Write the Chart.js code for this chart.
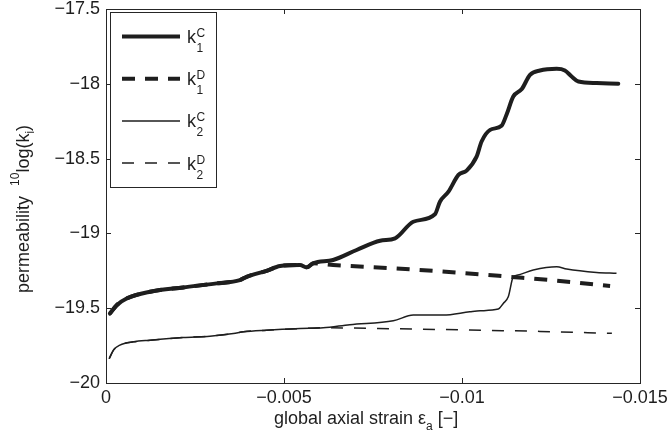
<!DOCTYPE html>
<html>
<head>
<meta charset="utf-8">
<script src="https://cdn.jsdelivr.net/npm/chart.js@4.4.0/dist/chart.umd.min.js"></script>
<style>
  body { margin: 0; background: #fff; }
</style>
</head>
<body>
<canvas id="chart" width="667" height="445"></canvas>
<script>
// values: global axial strain (x) vs 10log of permeability (y)
var k1cStrain = [-0.00011, -0.0003, -0.00058, -0.00124, -0.00217, -0.00311, -0.00376, -0.00395, -0.00451, -0.00489,
    -0.00545, -0.00564, -0.00582, -0.00638, -0.00704, -0.0077, -0.00812, -0.00863, -0.00924, -0.00938,
    -0.00962, -0.0099, -0.01013, -0.01041, -0.01055, -0.01079, -0.01111, -0.01125, -0.01144, -0.01168,
    -0.01191, -0.01219, -0.01266, -0.01289, -0.01308, -0.01327, -0.01378, -0.01439];
var k1cLogK = [-19.536, -19.48, -19.435, -19.39, -19.361, -19.334, -19.312, -19.29, -19.25, -19.218,
    -19.211, -19.227, -19.2, -19.178, -19.111, -19.049, -19.033, -18.922, -18.872, -18.788,
    -18.721, -18.609, -18.58, -18.487, -18.386, -18.308, -18.281, -18.207, -18.085, -18.035,
    -17.94, -17.911, -17.9, -17.911, -17.951, -17.985, -17.995, -18.0];

var k1dStrain = [-0.00011, -0.0003, -0.00058, -0.00124, -0.00217, -0.00311, -0.00376, -0.00395, -0.00451, -0.00489,
    -0.00545, -0.00564, -0.00582, -0.00638, -0.00798, -0.00994, -0.01135, -0.01275, -0.01416];
var k1dLogK = [-19.536, -19.48, -19.435, -19.39, -19.361, -19.334, -19.312, -19.29, -19.25, -19.218,
    -19.211, -19.227, -19.2, -19.211, -19.232, -19.263, -19.29, -19.318, -19.352];

var k2cStrain = [-0.00009, -0.00021, -0.00039, -0.00077, -0.00124, -0.00217, -0.00292, -0.00358, -0.00386, -0.00451,
    -0.00545, -0.0061, -0.00685, -0.00807, -0.00863, -0.00947, -0.01022, -0.01051, -0.01102, -0.01116,
    -0.0113, -0.01144, -0.01154, -0.012, -0.01266, -0.01294, -0.01378, -0.01434];
var k2cLogK = [-19.838, -19.78, -19.747, -19.725, -19.714, -19.696, -19.687, -19.669, -19.658, -19.647,
    -19.636, -19.631, -19.61, -19.584, -19.546, -19.546, -19.524, -19.517, -19.506, -19.468,
    -19.424, -19.29, -19.28, -19.245, -19.223, -19.238, -19.261, -19.267];

var k2dStrain = [-0.00009, -0.00021, -0.00039, -0.00077, -0.00124, -0.00217, -0.00292, -0.00358, -0.00386, -0.00451,
    -0.00545, -0.0061, -0.00826, -0.01022, -0.01219, -0.01421];
var k2dLogK = [-19.838, -19.78, -19.747, -19.725, -19.714, -19.696, -19.687, -19.669, -19.658, -19.647,
    -19.636, -19.631, -19.638, -19.646, -19.655, -19.668];

var xTicks = [0, -0.005, -0.01, -0.015];
var xTickLabels = ['0', '\u22120.005', '\u22120.01', '\u22120.015'];
var yTicks = [-20, -19.5, -19, -18.5, -18, -17.5];
var yTickLabels = ['\u221220', '\u221219.5', '\u221219', '\u221218.5', '\u221218', '\u221217.5'];

var legendSup = ['C', 'D', 'C', 'D'];
var legendSub = ['1', '1', '2', '2'];

var FONT = '"Liberation Sans", Arial, Helvetica, sans-serif';
var INK = '#1e1e1e';

function toPoints(xs, ys) {
    return xs.map(function (v, i) { return { x: v, y: ys[i] }; });
}

// draws a run of text pieces: [text, size, baseline shift]
function drawParts(ctx, parts, x, y) {
    parts.forEach(function (p) {
        ctx.font = p[1] + 'px ' + FONT;
        ctx.fillText(p[0], x, y + p[2]);
        x += ctx.measureText(p[0]).width;
    });
}

var matlabAxes = {
    id: 'matlabAxes',
    afterDatasetsDraw: function (chart) {
        var ctx = chart.ctx;
        var a = chart.chartArea;
        var xs = chart.scales.x, ys = chart.scales.y;
        ctx.save();
        ctx.strokeStyle = '#262626';
        ctx.lineWidth = 1;
        ctx.setLineDash([]);
        ctx.strokeRect(Math.round(a.left) + 0.5, Math.round(a.top) + 0.5,
            Math.round(a.right - a.left), Math.round(a.bottom - a.top));

        // ticks point inwards on all four sides
        ctx.beginPath();
        xTicks.forEach(function (v) {
            var px = Math.round(xs.getPixelForValue(v)) + 0.5;
            ctx.moveTo(px, a.bottom); ctx.lineTo(px, a.bottom - 5);
            ctx.moveTo(px, a.top); ctx.lineTo(px, a.top + 5);
        });
        yTicks.forEach(function (v) {
            var py = Math.round(ys.getPixelForValue(v)) + 0.5;
            ctx.moveTo(a.left, py); ctx.lineTo(a.left + 5, py);
            ctx.moveTo(a.right, py); ctx.lineTo(a.right - 5, py);
        });
        ctx.stroke();
        ctx.restore();
    },
    afterDraw: function (chart) {
        var ctx = chart.ctx;
        ctx.save();
        ctx.fillStyle = INK;
        ctx.textBaseline = 'alphabetic';
        ctx.textAlign = 'left';

        // x axis title
        drawParts(ctx, [['global axial strain \u03b5', 18, 0], ['a', 12, 6], [' [\u2212]', 18, 0]], 274, 424);

        // y axis title, rotated
        ctx.save();
        ctx.translate(29, 293);
        ctx.rotate(-Math.PI / 2);
        drawParts(ctx, [['permeability', 18, 0], ['  ', 18, 0], ['10', 12, -10], ['log(k', 18, 0], ['i', 12, 5], [')', 18, 0]], 0, 0);
        ctx.restore();

        // legend
        ctx.fillStyle = '#fff';
        ctx.fillRect(110.5, 12.5, 106, 175);
        ctx.strokeStyle = '#262626';
        ctx.lineWidth = 1;
        ctx.strokeRect(110.5, 12.5, 106, 175);
        chart.data.datasets.forEach(function (ds, i) {
            var ry = 36.5 + i * 42.2;
            ctx.save();
            ctx.strokeStyle = ds.borderColor;
            ctx.lineWidth = ds.borderWidth;
            ctx.setLineDash(ds.borderDash || []);
            ctx.lineCap = 'butt';
            ctx.beginPath();
            ctx.moveTo(122, ry);
            ctx.lineTo(180, ry);
            ctx.stroke();
            ctx.restore();

            ctx.fillStyle = INK;
            ctx.font = '18px ' + FONT;
            ctx.fillText('k', 187, ry + 6.5);
            var kx = 187 + ctx.measureText('k').width + 0.5;
            ctx.font = '12px ' + FONT;
            ctx.fillText(legendSup[i], kx, ry + 0.5);
            ctx.fillText(legendSub[i], kx, ry + 15.5);
        });
        ctx.restore();
    }
};

var ctx = document.getElementById('chart').getContext('2d');
var myChart = new Chart(ctx, {
    type: 'line',
    data: {
        datasets: [{
            data: toPoints(k1cStrain, k1cLogK),
            borderColor: INK,
            borderWidth: 4,
            borderJoinStyle: 'round',
            borderCapStyle: 'round'
        }, {
            data: toPoints(k1dStrain, k1dLogK),
            borderColor: INK,
            borderWidth: 4,
            borderDash: [13, 10]
        }, {
            data: toPoints(k2cStrain, k2cLogK),
            borderColor: INK,
            borderWidth: 1.5,
            borderJoinStyle: 'round'
        }, {
            data: toPoints(k2dStrain, k2dLogK),
            borderColor: INK,
            borderWidth: 1.5,
            borderDash: [12, 11]
        }]
    },
    options: {
        responsive: false,
        animation: false,
        events: [],
        elements: {
            point: { radius: 0 },
            line: { cubicInterpolationMode: 'monotone', fill: false }
        },
        layout: { padding: { top: 9, right: 27, bottom: 0, left: 0 } },
        plugins: {
            legend: { display: false },
            tooltip: { enabled: false }
        },
        scales: {
            x: {
                type: 'linear',
                min: -0.015,
                max: 0,
                reverse: true,
                grid: { display: false, drawTicks: false },
                border: { display: false },
                afterBuildTicks: function (scale) {
                    scale.ticks = xTicks.map(function (v) { return { value: v }; });
                },
                afterFit: function (scale) {
                    scale.height = 62;
                    scale.paddingLeft = 0;
                    scale.paddingRight = 0;
                },
                ticks: {
                    maxRotation: 0,
                    autoSkip: false,
                    padding: 4,
                    color: INK,
                    font: { family: FONT, size: 18 },
                    callback: function (v, i) { return xTickLabels[i]; }
                }
            },
            y: {
                type: 'linear',
                min: -20,
                max: -17.5,
                grid: { display: false, drawTicks: false },
                border: { display: false },
                afterBuildTicks: function (scale) {
                    scale.ticks = yTicks.map(function (v) { return { value: v }; });
                },
                afterFit: function (scale) {
                    scale.width = 106;
                    scale.paddingTop = 0;
                    scale.paddingBottom = 0;
                },
                ticks: {
                    autoSkip: false,
                    padding: 6,
                    color: INK,
                    font: { family: FONT, size: 18 },
                    callback: function (v, i) { return yTickLabels[i]; }
                }
            }
        }
    },
    plugins: [matlabAxes]
});
</script>
</body>
</html>
